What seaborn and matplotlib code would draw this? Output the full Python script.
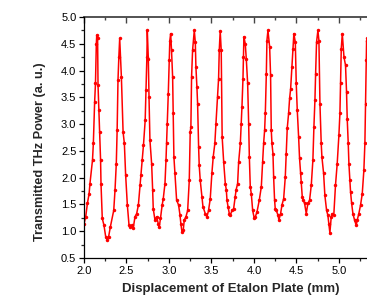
import matplotlib
matplotlib.use("Agg")
import matplotlib.pyplot as plt
from matplotlib.ticker import MultipleLocator
import pandas as pd
import seaborn as sns

# displacement (mm) and transmitted power (a. u.)
displacement = [
    2.000, 2.020, 2.040, 2.060, 2.070, 2.100, 2.110, 2.125, 2.135, 2.145,
    2.150, 2.160, 2.165, 2.175, 2.185, 2.195, 2.200, 2.215, 2.235, 2.255,
    2.275, 2.290, 2.310, 2.350, 2.365, 2.380, 2.390, 2.400, 2.410, 2.420,
    2.440, 2.460, 2.475, 2.490, 2.510, 2.530, 2.545, 2.560, 2.580, 2.600,
    2.620, 2.640, 2.660, 2.670, 2.686, 2.700, 2.720, 2.730, 2.740, 2.745,
    2.757, 2.765, 2.776, 2.796, 2.808, 2.815, 2.835, 2.855, 2.874, 2.886,
    2.900, 2.920, 2.933, 2.953, 2.965, 2.972, 2.980, 2.992, 3.004, 3.010,
    3.020, 3.030, 3.043, 3.050, 3.058, 3.070, 3.090, 3.113, 3.130, 3.140,
    3.153, 3.168, 3.180, 3.200, 3.220, 3.239, 3.250, 3.258, 3.266, 3.278,
    3.298, 3.310, 3.317, 3.329, 3.337, 3.349, 3.356, 3.368, 3.388, 3.400,
    3.427, 3.447, 3.466, 3.486, 3.505, 3.521, 3.540, 3.553, 3.572, 3.584,
    3.592, 3.603, 3.615, 3.626, 3.644, 3.663, 3.675, 3.683, 3.695, 3.710,
    3.722, 3.742, 3.761, 3.780, 3.790, 3.808, 3.820, 3.840, 3.851, 3.859,
    3.871, 3.877, 3.882, 3.898, 3.910, 3.926, 3.938, 3.946, 3.957, 3.969,
    3.985, 4.004, 4.016, 4.036, 4.063, 4.087, 4.102, 4.114, 4.126, 4.134,
    4.146, 4.153, 4.165, 4.185, 4.196, 4.204, 4.212, 4.224, 4.232, 4.243,
    4.251, 4.263, 4.283, 4.294, 4.314, 4.330, 4.350, 4.369, 4.380, 4.392,
    4.408, 4.420, 4.432, 4.447, 4.459, 4.470, 4.487, 4.498, 4.510, 4.526,
    4.537, 4.549, 4.557, 4.569, 4.580, 4.596, 4.616, 4.635, 4.655, 4.675,
    4.694, 4.706, 4.718, 4.726, 4.737, 4.753, 4.765, 4.777, 4.792, 4.800,
    4.820, 4.835, 4.855, 4.870, 4.882, 4.894, 4.910, 4.922, 4.940, 4.960,
    4.980, 5.000, 5.012, 5.020, 5.028, 5.040, 5.060, 5.078, 5.090, 5.098,
    5.110, 5.118, 5.130, 5.137, 5.150, 5.165, 5.184, 5.204, 5.216, 5.235,
    5.255, 5.275, 5.294, 5.306, 5.314, 5.322, 5.326, 5.335,
]
power = [
    1.14, 1.27, 1.52, 1.70, 1.89, 2.33, 2.64, 3.41, 3.76, 4.50,
    4.66, 4.60, 3.73, 3.26, 2.85, 2.33, 1.89, 1.24, 1.11, 0.90,
    0.83, 0.90, 1.08, 1.39, 1.77, 2.26, 2.89, 3.82, 4.25, 4.60,
    3.88, 2.85, 2.64, 2.05, 1.49, 1.11, 1.08, 1.11, 1.06, 1.27,
    1.33, 1.49, 1.86, 2.05, 2.33, 2.61, 3.07, 3.63, 4.25, 4.75,
    4.22, 3.51, 2.70, 2.26, 1.77, 1.42, 1.21, 1.27, 1.14, 1.08,
    1.24, 1.49, 1.61, 1.89, 2.33, 2.64, 3.01, 3.57, 4.19, 4.56,
    4.69, 4.38, 3.88, 3.20, 2.39, 2.08, 1.58, 1.49, 1.30, 1.14,
    0.99, 1.02, 1.21, 1.27, 1.39, 1.95, 2.85, 2.95, 3.88, 4.38,
    4.75, 4.53, 4.07, 3.69, 3.38, 2.57, 2.23, 1.95, 1.64, 1.46,
    1.33, 1.27, 1.39, 1.61, 2.08, 2.39, 2.64, 3.01, 3.51, 3.85,
    4.38, 4.74, 4.38, 2.76, 2.29, 1.89, 1.77, 1.58, 1.46, 1.33,
    1.30, 1.39, 1.42, 1.64, 1.77, 1.89, 2.29, 2.64, 3.01, 3.32,
    3.85, 4.25, 4.63, 4.50, 4.22, 3.76, 3.01, 2.39, 1.83, 1.70,
    1.39, 1.24, 1.27, 1.36, 1.58, 1.83, 2.29, 2.64, 2.89, 3.20,
    3.94, 4.56, 4.75, 4.44, 3.91, 2.89, 2.64, 2.45, 2.01, 1.58,
    1.42, 1.39, 1.30, 1.21, 1.33, 1.49, 1.61, 2.01, 2.45, 2.92,
    3.20, 3.48, 3.66, 4.07, 4.41, 4.69, 4.53, 3.76, 3.26, 2.76,
    2.36, 2.08, 1.92, 1.64, 1.58, 1.52, 1.33, 1.52, 1.58, 1.86,
    2.33, 2.95, 3.45, 3.94, 4.53, 4.75, 4.56, 3.38, 2.64, 2.39,
    2.08, 1.67, 1.39, 1.30, 1.14, 0.97, 1.27, 1.33, 1.30, 1.86,
    2.26, 2.79, 3.20, 3.76, 4.41, 4.69, 4.25, 4.10, 3.60, 3.10,
    2.64, 2.26, 1.95, 1.74, 1.52, 1.33, 1.21, 1.11, 1.21, 1.33,
    1.49, 1.70, 2.14, 2.64, 3.38, 4.19, 4.56, 4.60,
]

df = pd.DataFrame({"x": displacement, "y": power})

sns.set_style("ticks")
plt.rcParams["font.family"] = ["Liberation Sans", "DejaVu Sans"]

fig = plt.figure(figsize=(3.67, 2.97), dpi=100)
ax = fig.add_axes([0.2289, 0.1313, 0.801, 0.8114])

sns.lineplot(data=df, x="x", y="y", sort=False, estimator=None, ax=ax,
             color="#ff0000", lw=1.1, marker="o", markersize=2.5,
             markeredgewidth=0)

ax.set_xlim(2.0, 5.46)
ax.set_ylim(0.5, 5.0)
ax.xaxis.set_major_locator(MultipleLocator(0.5))
ax.xaxis.set_minor_locator(MultipleLocator(0.25))
ax.yaxis.set_major_locator(MultipleLocator(0.5))
ax.yaxis.set_minor_locator(MultipleLocator(0.25))
ax.tick_params(which="major", direction="out", length=3.5, width=0.9,
               labelsize=8, pad=2, colors="black")
ax.tick_params(which="minor", direction="out", length=2, width=0.9)

# inward ticks along the top edge
top = ax.secondary_xaxis("top")
top.xaxis.set_major_locator(MultipleLocator(0.5))
top.xaxis.set_minor_locator(MultipleLocator(0.25))
top.tick_params(which="major", direction="in", length=4, width=1.0,
                labeltop=False, color="#444444")
top.tick_params(which="minor", direction="in", length=2.5, width=1.0,
                color="#444444")
top.spines["top"].set_color("#444444")
top.spines["top"].set_linewidth(1.3)

for s in ["left", "bottom", "right"]:
    ax.spines[s].set_linewidth(0.9)
    ax.spines[s].set_color("black")
ax.spines["top"].set_visible(False)

ax.set_xlabel("Displacement of Etalon Plate (mm)", fontsize=9.5,
              fontweight="bold")
ax.set_ylabel("Transmitted THz Power (a. u.)", fontsize=9.2,
              fontweight="bold")
ax.xaxis.set_label_coords(0.5, -0.104)
ax.yaxis.set_label_coords(-0.13, 0.44)

fig.savefig("out.png", dpi=100)
plt.close(fig)
